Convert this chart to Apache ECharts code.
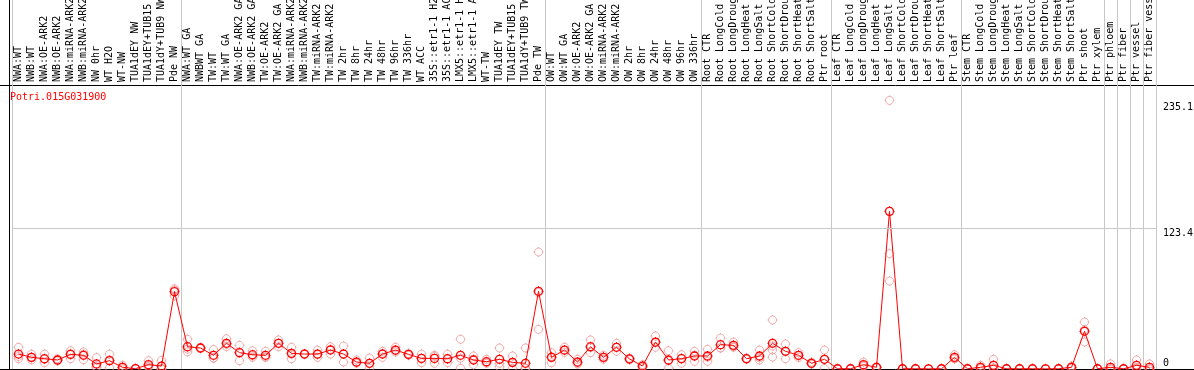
<!DOCTYPE html>
<html>
<head>
<meta charset="utf-8">
<script src="https://cdn.jsdelivr.net/npm/echarts@6/dist/echarts.min.js"></script>
<style>
html, body { margin: 0; padding: 0; background: #fff; }
#chart { width: 1194px; height: 370px; }
</style>
</head>
<body>
<div id="chart"></div>
<script>
var geneId = 'Potri.015G031900';

var samples = [
    'NWA:WT', 'NWB:WT', 'NWA:OE-ARK2', 'NWB:OE-ARK2', 'NWA:miRNA-ARK2', 'NWB:miRNA-ARK2',
    'NW 0hr', 'WT H2O', 'WT-NW', 'TUA1dEY NW', 'TUA1dEY+TUB15 NW', 'TUA1dY+TUB9 NW', 'Pde NW',
    'NWA:WT GA', 'NWBWT GA', 'TW:WT', 'TW:WT GA', 'NWA:OE-ARK2 GA', 'NWB:OE-ARK2 GA',
    'TW:OE-ARK2', 'TW:OE-ARK2 GA', 'NWA:miRNA-ARK2 GA', 'NWB:miRNA-ARK2 GA', 'TW:miRNA-ARK2',
    'TW:miRNA-ARK2 GA', 'TW 2hr', 'TW 8hr', 'TW 24hr', 'TW 48hr', 'TW 96hr', 'TW 336hr', 'WT ACC',
    '35S::etr1-1 H2O', '35S::etr1-1 ACC', 'LMX5::etr1-1 H2O', 'LMX5::etr1-1 ACC', 'WT-TW',
    'TUA1dEY TW', 'TUA1dEY+TUB15 TW', 'TUA1dY+TUB9 TW', 'Pde TW',
    'OW:WT', 'OW:WT GA', 'OW:OE-ARK2', 'OW:OE-ARK2 GA', 'OW:miRNA-ARK2', 'OW:miRNA-ARK2 GA',
    'OW 2hr', 'OW 8hr', 'OW 24hr', 'OW 48hr', 'OW 96hr', 'OW 336hr',
    'Root CTR', 'Root LongCold', 'Root LongDrought', 'Root LongHeat', 'Root LongSalt',
    'Root ShortCold', 'Root ShortDrought', 'Root ShortHeat', 'Root ShortSalt', 'Ptr root',
    'Leaf CTR', 'Leaf LongCold', 'Leaf LongDrought', 'Leaf LongHeat', 'Leaf LongSalt',
    'Leaf ShortCold', 'Leaf ShortDrought', 'Leaf ShortHeat', 'Leaf ShortSalt', 'Ptr leaf',
    'Stem CTR', 'Stem LongCold', 'Stem LongDrought', 'Stem LongHeat', 'Stem LongSalt',
    'Stem ShortCold', 'Stem ShortDrought', 'Stem ShortHeat', 'Stem ShortSalt', 'Ptr shoot',
    'Ptr xylem', 'Ptr phloem', 'Ptr fiber', 'Ptr vessel', 'Ptr fiber vessel'
];

// first sample of each group (grey separators)
var groupStarts = [0, 13, 41, 53, 63, 73, 84, 85, 86, 87];

var means = [
    13.1, 10.2, 9, 7.9, 12.8, 12, 4.4, 7.3, 1.5, 0.3, 3.8, 2.6, 67.7,
    19.5, 18.4, 12, 22.5, 14.3, 12.5, 12, 22.5, 13.7, 13.1, 13.1, 16.6, 13.1, 6.1, 5, 13.1,
    16.6, 12.8, 9.3, 9.3, 9, 12, 7.9, 6.4, 8.5, 5.8, 5, 68,
    10.2, 16.6, 6.1, 19.5, 10.2, 19, 8.8, 2.6, 23.6, 7.9, 9, 11.4,
    11.4, 21.3, 20.7, 9, 11.4, 22.5, 15.5, 12, 5, 8.5,
    0.2, 0.2, 3.8, 1.5, 138, 0.2, 0.2, 0.1, 0.2, 10.2,
    0.2, 1.5, 3.2, 0.2, 0.2, 0.2, 0.1, 0.2, 1.5, 33,
    0.2, 1.5, 0.2, 3.2, 1.5
];

var replicates = [
    [19, 11, 9], [13, 8, 10], [13, 5.5, 8.5], [9, 7, 7.5], [16, 9, 13.5], [15, 8, 13],
    [10, 2, 1.2], [13, 8, 1], [3.2, 1.5, 0], [0.5, 0.3, 0], [7.3, 2.5, 1.5], [7.5, 0.3, 0],
    [70.3, 64, 69],
    [26, 15, 17.5], [19, 18, 18], [17, 9.5, 9.5], [26.5, 19.5, 21.5], [20.7, 7.3, 15],
    [16, 10.2, 11.5], [15.5, 10.2, 10.5], [25.4, 19.5, 22.5], [19, 9, 13], [13.5, 12.7, 13.1],
    [16.6, 10.2, 12.5], [19.5, 13, 17.3], [20.1, 6.1, 13.1], [7.9, 5, 5.5], [9.6, 0.6, 4.8],
    [15.5, 10.2, 13.6], [19, 14.9, 16], [13.5, 12, 12.9], [13, 5.5, 9.4], [12, 5, 11],
    [13, 5.5, 8.5], [26, 0.6, 9.5], [11.4, 3.8, 8.5], [8.5, 5, 5.7], [18.4, 2, 5],
    [11.4, 0.6, 5.4], [18.4, 0.6, 0.6, 0.4], [102.4, 34.7, 67],
    [14.3, 5.5, 10.8], [19, 14.5, 16.3], [8.5, 4.4, 5.4], [25.4, 14.3, 18.8], [12, 8.5, 10.1],
    [22.5, 15.5, 19], [9.5, 8, 8.9], [3.8, 1.5, 2.5], [28.9, 19, 23], [16, 0.6, 7.1],
    [12.5, 5, 9.5], [15.5, 6.7, 12],
    [17.2, 6.7, 10.3], [27.1, 18.4, 18.4], [23.6, 19.5, 19], [9.5, 8.5, 9], [16.6, 7.9, 9.8],
    [42.9, 16.6, 10.5, 20], [21.9, 9, 15.5], [14.3, 10, 11.7], [6, 4.5, 4.5], [16.6, 0.6, 8.3],
    [0.3, 0.2, 0.1], [0.2, 0.2, 0.1], [6.1, 3, 2.3], [2, 1.3, 1.2], [235.1, 101, 77],
    [0.3, 0.2, 0.1], [0.3, 0.2, 0.1], [0.1, 0.1, 0.1], [0.3, 0.2, 0.1], [12.5, 9, 9],
    [0.3, 0.2, 0.1], [3.2, 1, 0.3], [8.5, 0.6, 0.5], [0.3, 0.2, 0.1], [0.3, 0.2, 0.1],
    [0.3, 0.2, 0.1], [0.3, 0.2, 0.1], [0.3, 0.2, 0.1], [2.6, 1, 0.9], [41.1, 23.6, 34.3],
    [0.3, 0.2, 0.1], [4.5, 0, 0], [0.3, 0.2, 0.1], [7.9, 1, 0.7], [4.4, 0, 0]
];

var yTicks = [0, 123.4, 235.1];
var yMax = 248.6;

var chart = echarts.init(document.getElementById('chart'));

var repPoints = [];
replicates.forEach(function (list, i) {
    list.forEach(function (v) { repPoints.push([i, v]); });
});

// circle (bezier) with four tiny ticks
var marker = 'path://M0,-4C2.21,-4,4,-2.21,4,0C4,2.21,2.21,4,0,4C-2.21,4,-4,2.21,-4,0C-4,-2.21,-2.21,-4,0,-4Z'
    + 'M0,-4L0,-5M0,4L0,5M-4,0L-5,0M4,0L5,0';
var mono = 'DejaVu Sans Mono';

function isGroupStart(index) {
    return groupStarts.indexOf(index) >= 0;
}

var option = {
    animation: false,
    backgroundColor: '#fff',
    title: {
        text: geneId,
        left: 10,
        top: 92,
        padding: 0,
        textStyle: { color: '#ff0000', fontFamily: mono, fontSize: 10, fontWeight: 'normal' }
    },
    grid: [
        { left: 12, right: 38, top: 85, bottom: 1, containLabel: false, outerBoundsMode: 'none' },
        { left: 12, right: 38, top: 0, height: 85, containLabel: false, outerBoundsMode: 'none' }
    ],
    xAxis: [
        {
            type: 'category',
            gridIndex: 0,
            position: 'top',
            data: samples,
            boundaryGap: true,
            axisLine: { show: false },
            axisTick: { show: false },
            axisLabel: {
                interval: 0,
                rotate: 90,
                margin: 3,
                color: '#000',
                fontFamily: mono,
                fontSize: 10
            },
            splitLine: {
                show: true,
                interval: isGroupStart,
                lineStyle: { color: '#c8c8c8', width: 1 }
            }
        },
        {
            type: 'category',
            gridIndex: 1,
            data: samples,
            boundaryGap: true,
            axisLine: { show: false },
            axisTick: { show: false },
            axisLabel: { show: false },
            splitLine: {
                show: true,
                interval: isGroupStart,
                lineStyle: { color: '#c8c8c8', width: 1 }
            }
        }
    ],
    yAxis: [
        {
            type: 'value',
            gridIndex: 0,
            position: 'right',
            min: 0,
            max: yMax,
            axisLine: { show: false },
            axisTick: { show: false },
            splitLine: { show: false },
            axisLabel: {
                customValues: yTicks,
                margin: 7,
                color: '#000',
                fontFamily: mono,
                fontSize: 10,
                formatter: function (v) {
                    if (v === 0) return '{b|0}';
                    if (v === yTicks[2]) return '{h|' + v + '}';
                    return '{t|' + v + '}';
                },
                rich: {
                    h: { fontFamily: mono, fontSize: 10, color: '#000', padding: [14, 0, 0, 0] },
                    t: { fontFamily: mono, fontSize: 10, color: '#000', padding: [10, 0, 0, 0] },
                    b: { fontFamily: mono, fontSize: 10, color: '#000', padding: [0, 0, 12, 0] }
                }
            }
        },
        { type: 'value', gridIndex: 1, show: false }
    ],
    graphic: [
        { type: 'line', silent: true, shape: { x1: 0, y1: 85.5, x2: 1194, y2: 85.5 }, style: { stroke: '#000', lineWidth: 1 } },
        { type: 'line', silent: true, shape: { x1: 0, y1: 369.5, x2: 1194, y2: 369.5 }, style: { stroke: '#000', lineWidth: 1 } },
        { type: 'line', silent: true, shape: { x1: 9.5, y1: 0, x2: 9.5, y2: 370 }, style: { stroke: '#000', lineWidth: 1 } }
    ],
    series: [
        {
            name: 'replicates',
            type: 'scatter',
            xAxisIndex: 0,
            yAxisIndex: 0,
            data: repPoints,
            symbol: marker,
            symbolSize: 10,
            silent: true,
            z: 2,
            itemStyle: { color: 'none', borderColor: '#ec9a9a', borderWidth: 1 }
        },
        {
            name: 'mean',
            type: 'line',
            xAxisIndex: 0,
            yAxisIndex: 0,
            data: means,
            symbol: marker,
            symbolSize: 10,
            showAllSymbol: true,
            clip: false,
            silent: true,
            z: 3,
            lineStyle: { color: '#ff0000', width: 1 },
            itemStyle: { color: 'none', borderColor: '#ff0000', borderWidth: 1.3 },
            markLine: {
                silent: true,
                symbol: ['none', 'none'],
                label: { show: false },
                lineStyle: { color: '#c8c8c8', type: 'solid', width: 1 },
                data: [{ yAxis: yTicks[1] }]
            }
        }
    ]
};

chart.setOption(option);
</script>
</body>
</html>
